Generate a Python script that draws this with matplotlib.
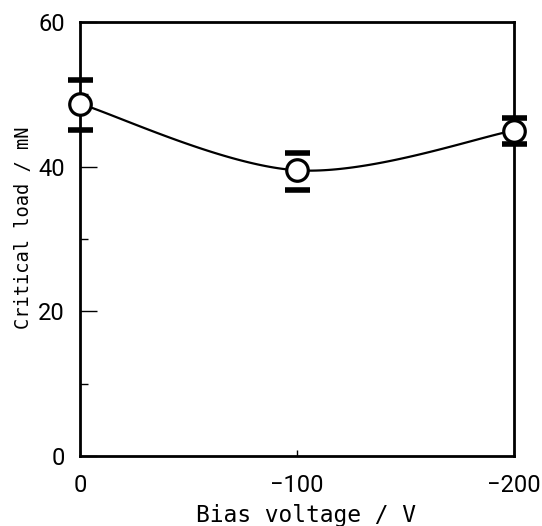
import numpy as np
import matplotlib.pyplot as plt
import matplotlib as mpl
from matplotlib import ticker
from matplotlib import font_manager

bias = [0, -100, -200]
load = [48.7, 39.5, 45.0]
err_hi = [52.0, 41.9, 46.7]
err_lo = [45.1, 36.8, 43.2]

mpl.rcParams['font.family'] = ['DejaVu Sans Mono', 'Noto Sans CJK JP']
names = {f.name for f in font_manager.fontManager.ttflist}
TICKFONT = ['Liberation Sans Narrow'] if 'Liberation Sans Narrow' in names else ['Roboto', 'DejaVu Sans']


def smooth(xs, ys, n=60):
    # Excel-style smoothed line: cubic Bezier with Catmull-Rom control points
    p = np.column_stack([xs, ys]).astype(float)
    out = []
    for i in range(len(p) - 1):
        p0 = p[i - 1] if i > 0 else p[i]
        p3 = p[i + 2] if i + 2 < len(p) else p[i + 1]
        c1 = p[i] + (p[i + 1] - p0) / 6
        c2 = p[i + 1] - (p3 - p[i]) / 6
        t = np.linspace(0, 1, n)[:, None]
        seg = ((1 - t) ** 3 * p[i] + 3 * (1 - t) ** 2 * t * c1
               + 3 * (1 - t) * t ** 2 * c2 + t ** 3 * p[i + 1])
        out.append(seg)
    s = np.vstack(out)
    return s[:, 0], s[:, 1]


fig = plt.figure(figsize=(5.42, 5.26), dpi=100)
ax = fig.add_axes([80 / 542, 70 / 526, 434 / 542, 434 / 526])

ax.set_xlim(0, -200)
ax.set_ylim(0, 60)

sx, sy = smooth(bias, load)
ax.plot(sx, sy, color='black', lw=1.6, zorder=2, clip_on=False)

# error caps only
ax.plot(bias, err_hi, ls='none', marker='_', ms=18, mew=4, color='black', clip_on=False, zorder=3)
ax.plot(bias, err_lo, ls='none', marker='_', ms=18, mew=4, color='black', clip_on=False, zorder=3)

ax.plot(bias, load, ls='none', marker='o', ms=15.5, mfc='white', mec='black', mew=2.3,
        clip_on=False, zorder=4)

ax.xaxis.set_major_locator(ticker.FixedLocator([0, -100, -200]))
ax.xaxis.set_major_formatter(ticker.FuncFormatter(lambda v, p: f"{v:.0f}".replace('-', '\u2212')))
ax.yaxis.set_major_locator(ticker.MultipleLocator(20))
ax.yaxis.set_minor_locator(ticker.MultipleLocator(10))

for s in ax.spines.values():
    s.set_linewidth(2)

ax.tick_params(axis='y', which='major', direction='in', length=12, width=1, pad=11, labelsize=17)
ax.tick_params(axis='y', which='minor', direction='in', length=6, width=1)
ax.tick_params(axis='x', which='major', direction='in', length=4, width=1, pad=13, labelsize=17)
for lab in ax.get_xticklabels() + ax.get_yticklabels():
    lab.set_family(TICKFONT)

ax.set_xlabel('Bias voltage / V', fontsize=16.5)
ax.set_ylabel('Critical load / mN', fontsize=13.5)
ax.xaxis.set_label_coords(0.521, -0.11)
ax.yaxis.set_label_coords(-0.108, 0.525)

fig.savefig('out.png', dpi=100)
